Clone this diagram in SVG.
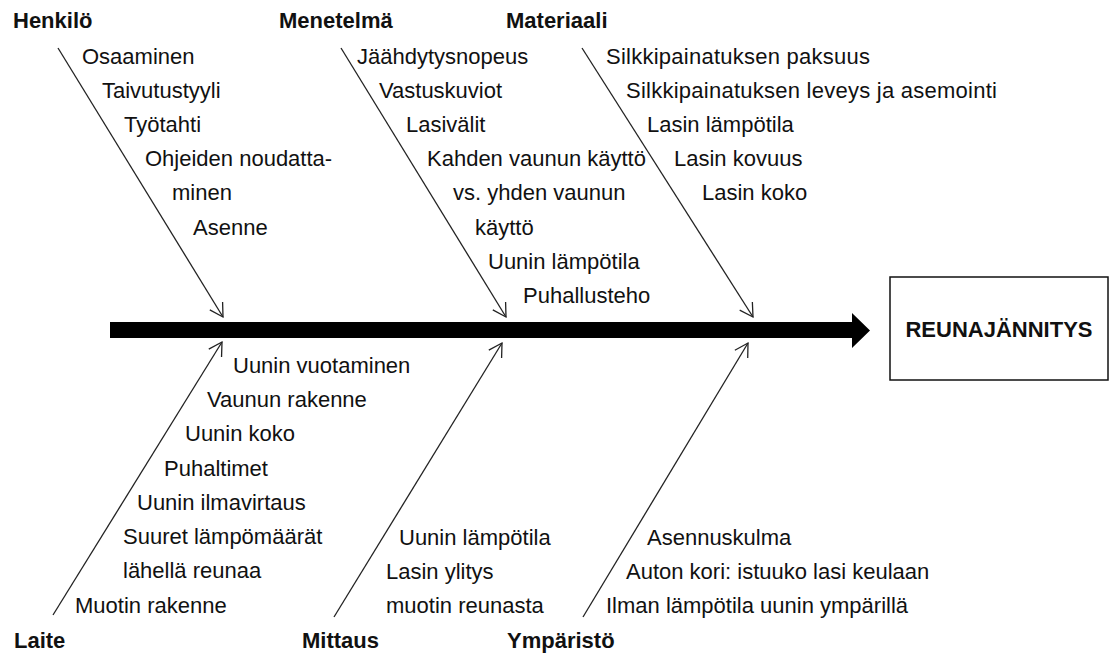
<svg xmlns="http://www.w3.org/2000/svg" width="1111" height="655" viewBox="0 0 1111 655">
<style>
text{font-family:"Liberation Sans",Arial,sans-serif;font-size:22px;fill:#111}
.h{font-weight:bold}
.w{letter-spacing:0.25px}
.bone{stroke:#222;stroke-width:1.3;fill:none;marker-end:url(#v)}
</style>
<defs>
<marker id="v" viewBox="-16 -9 18 18" markerWidth="18" markerHeight="18" refX="0" refY="0" orient="auto" markerUnits="userSpaceOnUse">
<path d="M-13,-7.5 L0,0 L-13,7.5" fill="none" stroke="#222" stroke-width="1.3"/>
</marker>
</defs>
<rect width="1111" height="655" fill="#fff"/>
<g id="connectors">
<polygon points="110,322 852,322 852,313 870,330.5 852,348 852,338 110,338" fill="#000"/>
<line class="bone" x1="58" y1="48" x2="223" y2="317"/>
<line class="bone" x1="341" y1="48" x2="506" y2="317"/>
<line class="bone" x1="582" y1="48" x2="753" y2="317"/>
<line class="bone" x1="53" y1="615" x2="222" y2="342"/>
<line class="bone" x1="334" y1="617" x2="502" y2="343"/>
<line class="bone" x1="583" y1="617" x2="748" y2="343"/>
</g>
<g id="henkilo">
<text class="h" x="13" y="28">Henkilö</text>
<text x="82" y="64">Osaaminen</text>
<text x="102" y="98">Taivutustyyli</text>
<text x="124" y="132">Työtahti</text>
<text x="145" y="166">Ohjeiden noudatta-</text>
<text x="172" y="200">minen</text>
<text x="193" y="235">Asenne</text>
</g>
<g id="menetelma">
<text class="h" x="279" y="28">Menetelmä</text>
<text x="357" y="64">Jäähdytysnopeus</text>
<text x="379" y="98">Vastuskuviot</text>
<text x="406" y="132">Lasivälit</text>
<text x="427" y="166">Kahden vaunun käyttö</text>
<text x="453" y="200">vs. yhden vaunun</text>
<text x="475" y="235">käyttö</text>
<text x="488" y="269">Uunin lämpötila</text>
<text x="523" y="303">Puhallusteho</text>
</g>
<g id="materiaali">
<text class="h" x="506" y="28">Materiaali</text>
<text class="w" x="606" y="64">Silkkipainatuksen paksuus</text>
<text class="w" x="626" y="98">Silkkipainatuksen leveys ja asemointi</text>
<text x="647" y="132">Lasin lämpötila</text>
<text x="674" y="166">Lasin kovuus</text>
<text x="702" y="200">Lasin koko</text>
</g>
<g id="laite">
<text x="233" y="373">Uunin vuotaminen</text>
<text x="207" y="407">Vaunun rakenne</text>
<text x="185" y="441">Uunin koko</text>
<text x="164" y="476">Puhaltimet</text>
<text x="137" y="510">Uunin ilmavirtaus</text>
<text x="123" y="544">Suuret lämpömäärät</text>
<text x="123" y="578">lähellä reunaa</text>
<text x="75" y="613">Muotin rakenne</text>
<text class="h" x="14" y="648">Laite</text>
</g>
<g id="mittaus">
<text x="399" y="545">Uunin lämpötila</text>
<text x="386" y="579">Lasin ylitys</text>
<text x="386" y="613">muotin reunasta</text>
<text class="h" x="302" y="648">Mittaus</text>
</g>
<g id="ymparisto">
<text x="647" y="545">Asennuskulma</text>
<text x="626" y="579">Auton kori: istuuko lasi keulaan</text>
<text x="606" y="613">Ilman lämpötila uunin ympärillä</text>
<text class="h" x="507" y="648">Ympäristö</text>
</g>
<g id="reunajannitys">
<rect x="890" y="277" width="218" height="103" fill="#fff" stroke="#111" stroke-width="1.5"/>
<text class="h" x="999" y="337" text-anchor="middle">REUNAJÄNNITYS</text>
</g>
</svg>
